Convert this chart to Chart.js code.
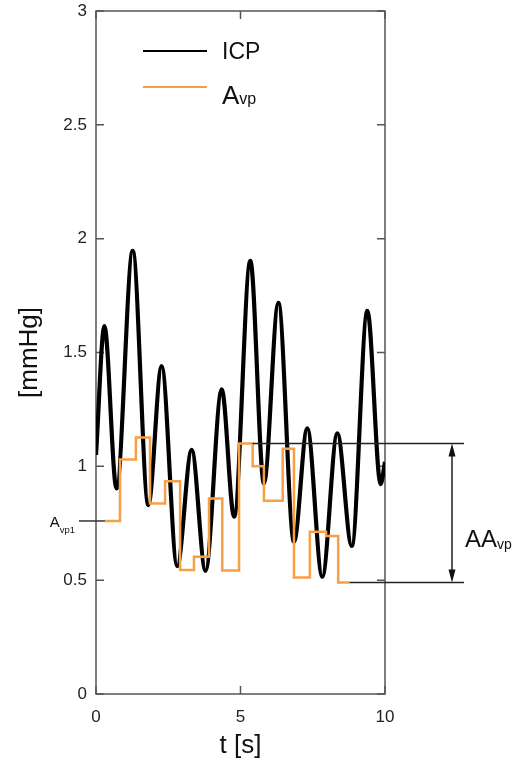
<!DOCTYPE html>
<html>
<head>
<meta charset="utf-8">
<script src="https://cdn.jsdelivr.net/npm/chart.js@4"></script>
<style>
  html, body { margin: 0; padding: 0; background: #fff; overflow: hidden; }
  #wrap { position: relative; width: 518px; height: 762px; }
</style>
</head>
<body>
<div id="wrap"><canvas id="icp-chart"></canvas></div>
<script>
// ICP waveform, sampled at its peaks and troughs over 10 s
const icpTimes  = [0, 0.29, 0.71, 1.27, 1.81, 2.27, 2.81, 3.31, 3.79, 4.35, 4.78, 5.34, 5.81, 6.31, 6.85, 7.31, 7.83, 8.35, 8.85, 9.39, 9.85, 10];
const icpValues = [1.05, 1.616, 0.903, 1.947, 0.83, 1.44, 0.562, 1.072, 0.541, 1.338, 0.779, 1.903, 0.925, 1.718, 0.669, 1.167, 0.515, 1.145, 0.65, 1.683, 0.922, 1.02];

// Avp steps: each value holds until the next edge, last entry closes the final step
const avpTimes  = [0.31, 0.83, 1.38, 1.87, 2.39, 2.91, 3.39, 3.91, 4.37, 4.95, 5.42, 5.81, 6.46, 6.85, 7.40, 7.96, 8.38, 8.77];
const avpValues = [0.76, 1.03, 1.127, 0.837, 0.935, 0.545, 0.603, 0.859, 0.542, 1.10, 1.00, 0.849, 1.077, 0.512, 0.713, 0.694, 0.49, 0.49];

const xTicks = [0, 5, 10];
const yTicks = [0, 0.5, 1, 1.5, 2, 2.5, 3];

const FONT = '"Liberation Sans", Arial, sans-serif';
const INK = '#111';
const ORANGE = '#f6a045';

// text with a lowered, smaller suffix (A + vp)
function subText(ctx, x, y, main, sub, size, subSize, drop) {
  ctx.font = size + 'px ' + FONT;
  ctx.fillText(main, x, y);
  const w = ctx.measureText(main).width;
  ctx.font = subSize + 'px ' + FONT;
  ctx.fillText(sub, x + w, y + drop);
}

function subWidth(ctx, main, sub, size, subSize) {
  ctx.font = size + 'px ' + FONT;
  const w = ctx.measureText(main).width;
  ctx.font = subSize + 'px ' + FONT;
  return w + ctx.measureText(sub).width;
}

// box around the plot with inward tick marks on all four sides
const framePlugin = {
  id: 'frame',
  beforeDatasetsDraw(chart) {
    const { ctx, chartArea: a, scales: { x, y } } = chart;
    ctx.save();
    ctx.strokeStyle = '#555';
    ctx.lineWidth = 1.5;
    ctx.strokeRect(a.left, a.top, a.right - a.left, a.bottom - a.top);
    ctx.beginPath();
    yTicks.forEach(v => {
      const py = y.getPixelForValue(v);
      ctx.moveTo(a.left, py); ctx.lineTo(a.left + 8, py);
      ctx.moveTo(a.right, py); ctx.lineTo(a.right - 8, py);
    });
    xTicks.forEach(v => {
      const px = x.getPixelForValue(v);
      ctx.moveTo(px, a.bottom); ctx.lineTo(px, a.bottom - 8);
      ctx.moveTo(px, a.top); ctx.lineTo(px, a.top + 8);
    });
    ctx.stroke();
    ctx.restore();
  }
};

// legend, Avp1 marker and the AAvp amplitude bracket
const notesPlugin = {
  id: 'notes',
  afterDatasetsDraw(chart) {
    const { ctx, chartArea: a, scales: { x, y } } = chart;
    ctx.save();
    ctx.textBaseline = 'alphabetic';
    ctx.textAlign = 'left';
    ctx.fillStyle = INK;

    // legend
    ctx.lineWidth = 2;
    ctx.strokeStyle = '#000';
    ctx.beginPath();
    ctx.moveTo(a.left + 47, a.top + 40); ctx.lineTo(a.left + 111, a.top + 40);
    ctx.stroke();
    ctx.strokeStyle = ORANGE;
    ctx.beginPath();
    ctx.moveTo(a.left + 47, a.top + 76); ctx.lineTo(a.left + 111, a.top + 76);
    ctx.stroke();
    ctx.font = '23px ' + FONT;
    ctx.fillText('ICP', a.left + 126, a.top + 48);
    subText(ctx, a.left + 126, a.top + 93, 'A', 'vp', 26, 16, 0);

    // Avp1: first step level carried out to the left of the axis
    const y1 = y.getPixelForValue(avpValues[0]);
    ctx.strokeStyle = '#333';
    ctx.lineWidth = 1.5;
    ctx.beginPath();
    ctx.moveTo(a.left - 17, y1);
    ctx.lineTo(x.getPixelForValue(avpTimes[0]), y1);
    ctx.stroke();
    const lw = subWidth(ctx, 'A', 'vp1', 15, 9.5);
    subText(ctx, a.left - 21 - lw, y1 + 6.5, 'A', 'vp1', 15, 9.5, 5.5);

    // AAvp: span between the high step and the final step
    const aaTop = avpValues[9];
    const aaBottom = avpValues[avpValues.length - 1];
    const yt = y.getPixelForValue(aaTop);
    const yb = y.getPixelForValue(aaBottom);
    const xEnd = a.right + 79;
    const xArrow = a.right + 67;
    ctx.strokeStyle = '#222';
    ctx.lineWidth = 1.5;
    ctx.beginPath();
    ctx.moveTo(x.getPixelForValue(avpTimes[10]), yt); ctx.lineTo(xEnd, yt);
    ctx.moveTo(x.getPixelForValue(avpTimes[avpTimes.length - 1]), yb); ctx.lineTo(xEnd, yb);
    ctx.moveTo(xArrow, yt + 10); ctx.lineTo(xArrow, yb - 10);
    ctx.stroke();
    ctx.fillStyle = '#111';
    ctx.beginPath();
    ctx.moveTo(xArrow, yt); ctx.lineTo(xArrow - 3.5, yt + 13); ctx.lineTo(xArrow + 3.5, yt + 13);
    ctx.closePath();
    ctx.moveTo(xArrow, yb); ctx.lineTo(xArrow - 3.5, yb - 13); ctx.lineTo(xArrow + 3.5, yb - 13);
    ctx.closePath();
    ctx.fill();
    ctx.fillStyle = INK;
    subText(ctx, a.right + 80, yb - 35, 'AA', 'vp', 24, 14, 2);

    ctx.restore();
  }
};

new Chart(document.getElementById('icp-chart'), {
  type: 'line',
  data: {
    datasets: [
      {
        label: 'Avp',
        data: avpTimes.map((t, i) => ({ x: t, y: avpValues[i] })),
        borderColor: ORANGE,
        borderWidth: 2.5,
        stepped: 'before',
        pointRadius: 0,
        fill: false,
        order: 0
      },
      {
        label: 'ICP',
        data: icpTimes.map((t, i) => ({ x: t, y: icpValues[i] })),
        borderColor: '#000',
        borderWidth: 4.2,
        cubicInterpolationMode: 'monotone',
        pointRadius: 0,
        fill: false,
        order: 1
      }
    ]
  },
  options: {
    responsive: true,
    maintainAspectRatio: false,
    animation: false,
    layout: { padding: { left: 0, top: 11, right: 133, bottom: 0 } },
    scales: {
      x: {
        type: 'linear',
        min: 0,
        max: 10,
        afterBuildTicks: s => { s.ticks = xTicks.map(v => ({ value: v })); },
        afterFit: s => { s.height = 68; s.paddingLeft = 0; s.paddingRight = 0; },
        grid: { display: false, drawTicks: false },
        border: { display: false },
        ticks: {
          color: '#222',
          padding: 13,
          font: { family: FONT, size: 17 },
          maxRotation: 0,
          callback: v => String(v)
        },
        title: {
          display: true,
          text: 't [s]',
          color: INK,
          font: { family: FONT, size: 26 },
          padding: { top: 0, bottom: 1 }
        }
      },
      y: {
        type: 'linear',
        min: 0,
        max: 3,
        afterBuildTicks: s => { s.ticks = yTicks.map(v => ({ value: v })); },
        afterFit: s => { s.width = 96; s.paddingTop = 0; s.paddingBottom = 0; },
        grid: { display: false, drawTicks: false },
        border: { display: false },
        ticks: {
          color: '#222',
          padding: 9,
          font: { family: FONT, size: 17 },
          callback: v => String(v)
        },
        title: {
          display: true,
          text: '[mmHg]',
          color: INK,
          font: { family: FONT, size: 26 },
          padding: { top: 14, bottom: 0 }
        }
      }
    },
    plugins: {
      legend: { display: false },
      tooltip: { enabled: false }
    }
  },
  plugins: [framePlugin, notesPlugin]
});
</script>
</body>
</html>
